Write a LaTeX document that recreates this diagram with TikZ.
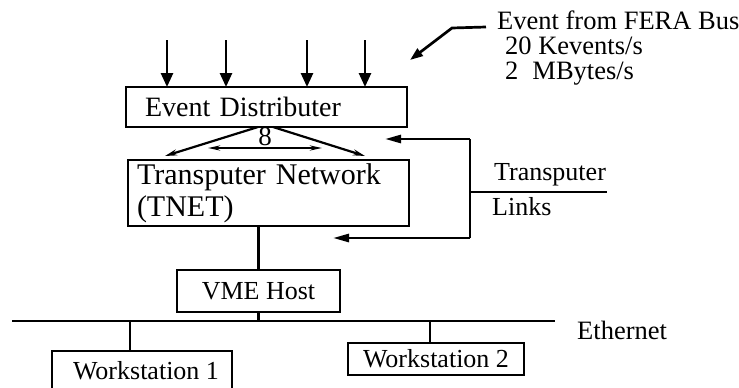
\documentclass[tikz,border=0pt]{standalone}
\usepackage{fontspec}
\setmainfont{Liberation Serif}
\usetikzlibrary{arrows.meta}
\begin{document}
\begin{tikzpicture}[x=1pt,y=-1pt,
  box/.style={draw, line width=2.7pt, inner sep=0pt, outer sep=0pt},
  wire/.style={line width=2.7pt},
  inarrow/.style={wire, -{Triangle[length=14pt,width=12pt]}},
  fanarrow/.style={line width=2.2pt, -{Stealth[length=12pt,width=6pt]}},
  linkarrow/.style={wire, -{Triangle[length=16pt,width=8pt]}},
  lbl/.style={inner sep=0pt, anchor=west}
]
\useasboundingbox (0,0) rectangle (739,388);

% boxes
\node[box, text width=243pt, inner xsep=19pt, minimum height=40pt, align=left,
      font=\fontsize{28}{30}\selectfont] (ed) at (266.5,107) {Event Distributer};
\node[box, text width=263pt, inner xsep=9pt, minimum height=66pt, align=left,
      font=\fontsize{30}{32}\selectfont] (tn) at (268.5,193) {Transputer Network\\(TNET)};
\node[box, minimum width=163pt, minimum height=42pt,
      font=\fontsize{26}{28}\selectfont] (vme) at (258.5,291) {VME Host};
\node[box, minimum width=180pt, minimum height=40pt,
      font=\fontsize{26}{28}\selectfont] (ws1) at (142,371) {\hspace*{8pt}Workstation 1};
\node[box, minimum width=176pt, minimum height=32pt,
      font=\fontsize{26}{28}\selectfont] (ws2) at (436,359) {Workstation 2};

% input arrows
\foreach \x/\n in {167/a,226/b,307/c,365/d}{
  \coordinate (in\n) at (\x,40);
  \draw[inarrow] (in\n) -- (in\n |- ed.north);
}

% fan under Event Distributer
\node[inner sep=0pt, font=\fontsize{27}{27}\selectfont] (eight) at (265,137) {8};
\coordinate (fl0) at (258,127);
\coordinate (fl1) at (165,156);
\coordinate (fr0) at (273,127);
\coordinate (fr1) at (365,156);
\coordinate (hl) at (208,148);
\coordinate (hr) at (322,148);
\draw[fanarrow] (fl0) -- (fl1);
\draw[fanarrow] (fr0) -- (fr1);
\draw[line width=2.2pt, {Stealth[length=12pt,width=5pt]}-{Stealth[length=12pt,width=5pt]}] (hl) -- (hr);

% transputer links
\coordinate (lt) at (470,139);
\coordinate (lb) at (470,238);
\coordinate (ltip) at (385,139);
\coordinate (btip) at (333,238);
\coordinate (lr) at (607,192);
\draw[wire] (lb) -- (lt);
\draw[linkarrow] (lt) -- (ltip);
\draw[linkarrow] (lb) -- (btip);
\draw[wire] (lt |- lr) -- (lr);
\node[lbl, font=\fontsize{26}{28}\selectfont] (tlab) at (494,175) {Transputer};
\node[lbl, font=\fontsize{26}{28}\selectfont] (llab) at (492,207) {Links};

% FERA arrow and text
\coordinate (f0) at (486,27);
\coordinate (f1) at (452,28);
\coordinate (f2) at (410,60);
\draw[wire, -{Triangle[length=13pt,width=9pt]}] (f0) -- (f1) -- (f2);
\node[lbl, align=left, font=\fontsize{26.5}{25}\selectfont] (fera) at (497,48)
  {Event from FERA Bus\\\hspace*{8pt}20 Kevents/s\\\hspace*{8pt}2\hspace*{14pt}MBytes/s};

% vertical links
\draw[wire] (tn.south -| vme.north) -- (vme.north);

% Ethernet
\coordinate (e0) at (12,321);
\coordinate (e1) at (555,321);
\draw[wire] (e0) -- (e1);
\draw[wire] (vme.south) -- (vme.south |- e0);
\coordinate (w1) at (130,321);
\coordinate (w2) at (430,321);
\draw[wire] (w1) -- (w1 |- ws1.north);
\draw[wire] (w2) -- (w2 |- ws2.north);
\node[lbl, font=\fontsize{26.5}{28}\selectfont] (eth) at (577,330) {Ethernet};
\end{tikzpicture}
\end{document}
